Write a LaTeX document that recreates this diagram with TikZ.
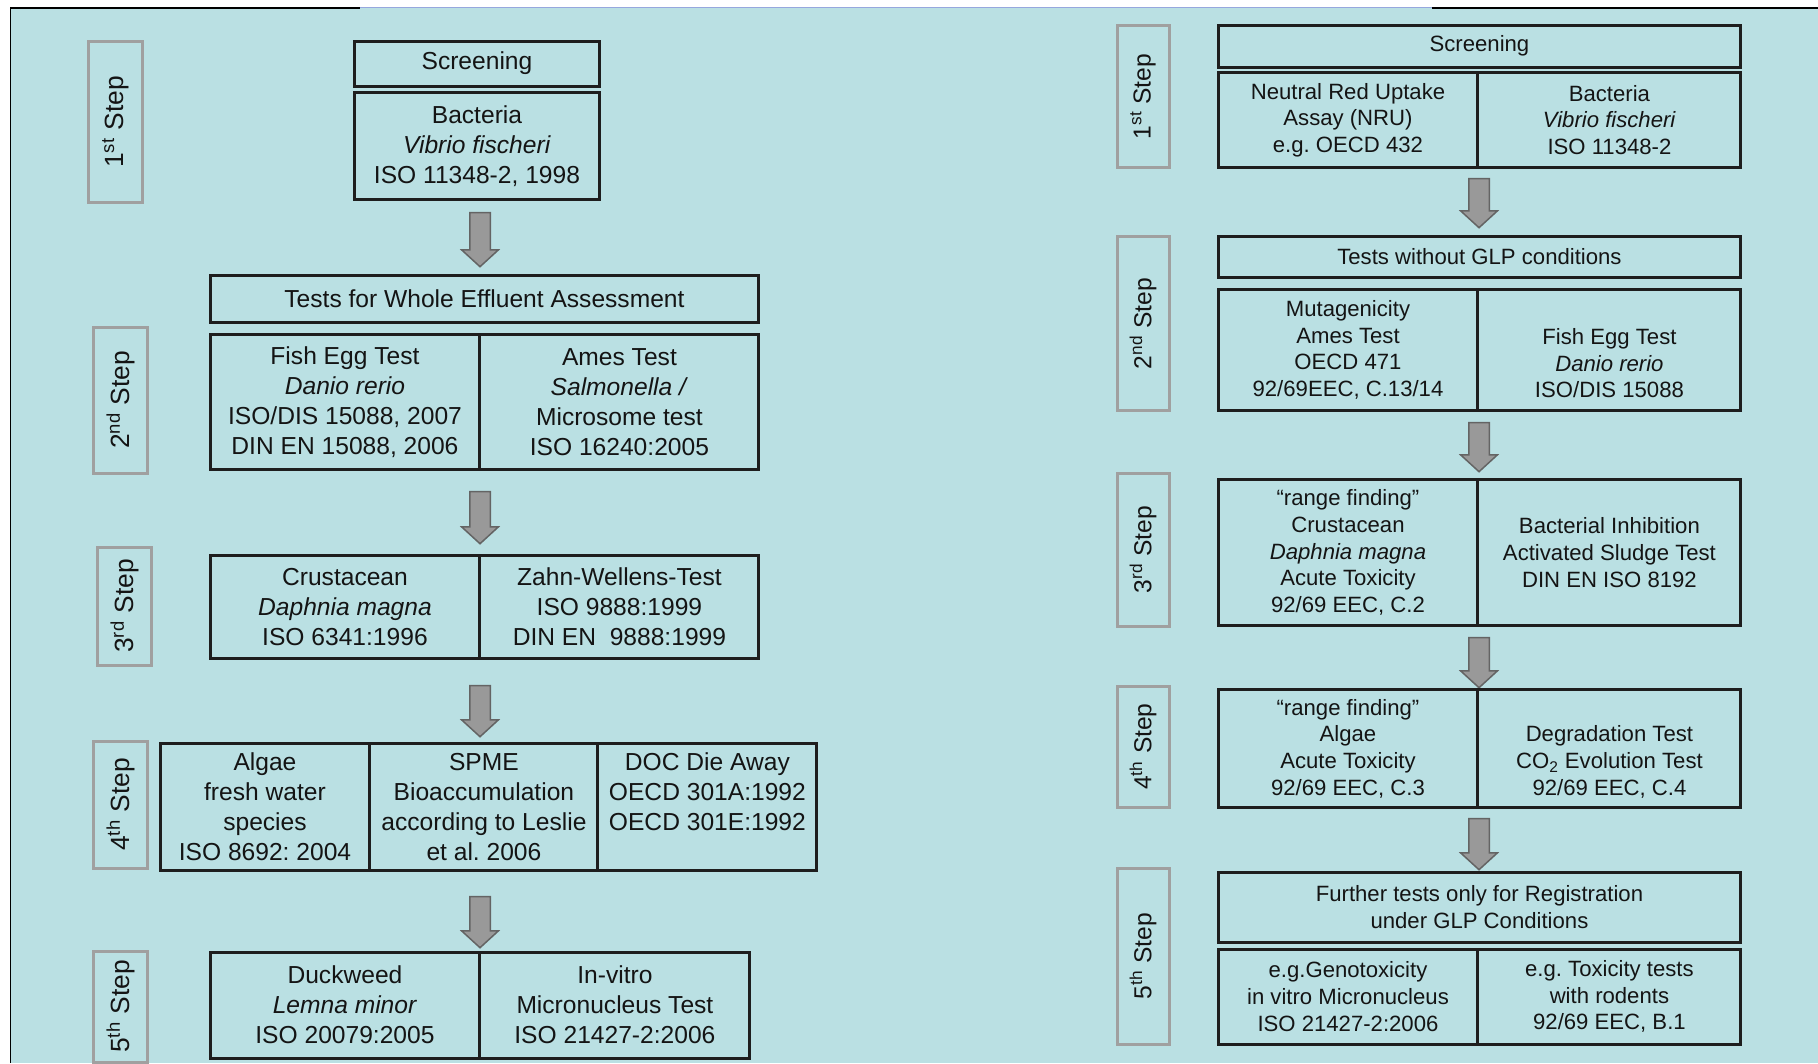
\documentclass[tikz,border=0pt]{standalone}
\usepackage{fontspec}
\setmainfont{Liberation Sans}
\frenchspacing
\usetikzlibrary{positioning,shapes.arrows}
\definecolor{PanelCyan} {RGB}{186,224,227}
\definecolor{FrameBlue} {RGB}{150,168,222}
\definecolor{BoxLine}   {RGB}{ 30, 30, 30}
\definecolor{StepGray}  {RGB}{160,160,160}
\definecolor{ArrowGray} {RGB}{153,153,153}
\definecolor{ArrowEdge} {RGB}{100,100,100}
\definecolor{TextDark}  {RGB}{ 20, 20, 20}
\tikzset{
  %% 左侧方框
  cellL/.style={rectangle,draw=BoxLine,line width=0.06cm,
                inner sep=0pt,outer sep=0pt,align=center,
                text=TextDark,font=\fontsize{14}{17.1}\selectfont},
  %% 右侧方框
  cellR/.style={rectangle,draw=BoxLine,line width=0.06cm,
                inner sep=0pt,outer sep=0pt,align=center,
                text=TextDark,font=\fontsize{12.6}{15.2}\selectfont},
  %% 单独放置的文字
  txtL/.style={align=center,inner sep=0pt,text=TextDark,
               font=\fontsize{14}{17.1}\selectfont},
  txtR/.style={align=center,inner sep=0pt,text=TextDark,
               font=\fontsize{12.6}{15.2}\selectfont},
  %% 步骤标签
  stepL/.style={rectangle,draw=StepGray,line width=0.06cm,rotate=90,
                inner sep=0pt,outer sep=0pt,minimum height=1.10cm,
                text=TextDark,font=\fontsize{15}{18}\selectfont},
  stepR/.style={stepL,minimum height=1.04cm,
                font=\fontsize{14}{17}\selectfont},
  %% 箭头
  downar/.style={single arrow,shape border rotate=270,draw=ArrowEdge,
                 fill=ArrowGray,line width=0.03cm,inner sep=0.19cm,
                 minimum width=0.72cm,single arrow head extend=0.16cm,
                 single arrow tip angle=95},
}
\begin{document}
\begin{tikzpicture}[x=0.02cm,y=-0.02cm]
    \useasboundingbox (0,0) rectangle (1818,1063);
    %% 背景与边框
    \fill[white] (0,0) rectangle (1818,1063);
    \fill[PanelCyan] (10,7.5) rectangle (1818,1063);
    \draw[black,line width=0.04cm] (10.5,1063) -- (10.5,7.5) -- (360,7.5);
    \draw[FrameBlue,line width=0.03cm] (360,7.5) -- (1432,7.5);
    \draw[black,line width=0.04cm] (1432,7.5) -- (1818,7.5);

    %% 左侧 第一步
    \node[stepL,minimum width=3.24cm] (stL1) at (115.5,122) {1\textsuperscript{st} Step};
    \node[cellL,minimum width=4.92cm,minimum height=0.90cm,anchor=north west] (scrL) at (354,41) {Screening};
    \node[cellL,minimum width=4.92cm,minimum height=2.14cm,below=0.14cm of scrL] (bacL)
      {Bacteria\\\textit{Vibrio fischeri}\\ISO 11348-2, 1998};
    \node[downar,minimum height=1.08cm] (arL1) at (480,235) {};

    %% 左侧 第二步
    \node[stepL,minimum width=2.92cm] (stL2) at (120.5,400) {2\textsuperscript{nd} Step};
    \node[cellL,minimum width=10.98cm,minimum height=0.94cm,anchor=north west] (weaL) at (210,275)
      {Tests for Whole Effluent Assessment};
    \node[cellL,minimum width=5.40cm,minimum height=2.72cm,anchor=north west] (fishL) at (210,334)
      {Fish Egg Test\\\textit{Danio rerio}\\ISO/DIS 15088, 2007\\DIN EN 15088, 2006};
    \node[cellL,minimum width=5.58cm,minimum height=2.72cm,right=0pt of fishL] (amesL)
      {Ames Test\\\textit{Salmonella /}\\Microsome test\\ISO 16240:2005};
    \node[downar,minimum height=1.04cm] (arL2) at (480,513) {};

    %% 左侧 第三步
    \node[stepL,minimum width=2.36cm] (stL3) at (124.5,606) {3\textsuperscript{rd} Step};
    \node[cellL,minimum width=5.40cm,minimum height=2.08cm,anchor=north west] (crusL) at (210,555)
      {Crustacean\\\textit{Daphnia magna}\\ISO 6341:1996};
    \node[cellL,minimum width=5.58cm,minimum height=2.08cm,right=0pt of crusL] (zahnL)
      {Zahn-Wellens-Test\\ISO 9888:1999\\DIN EN\ \ 9888:1999};
    \node[downar,minimum height=1.02cm] (arL3) at (480,706.5) {};

    %% 左侧 第四步
    \node[stepL,minimum width=2.54cm] (stL4) at (120.5,804.5) {4\textsuperscript{th} Step};
    \node[cellL,minimum width=4.20cm,minimum height=2.56cm,anchor=north west] (algL) at (160,743)
      {Algae\\fresh water\\species\\ISO 8692: 2004};
    \node[cellL,minimum width=4.56cm,minimum height=2.56cm,right=0pt of algL] (spmeL)
      {SPME\\Bioaccumulation\\according to Leslie\\et al. 2006};
    \node[cellL,minimum width=4.38cm,minimum height=2.56cm,right=0pt of spmeL] (docL) {};
    \node[txtL] (docT) at ([yshift=8.55pt]docL.center)
      {DOC Die Away\\OECD 301A:1992\\OECD 301E:1992};
    \node[downar,minimum height=1.02cm] (arL4) at (480,917.5) {};

    %% 左侧 第五步
    \node[stepL,minimum width=2.22cm] (stL5) at (120.5,1006.5) {5\textsuperscript{th} Step};
    \node[cellL,minimum width=5.40cm,minimum height=2.12cm,anchor=north west] (duckL) at (210,952)
      {Duckweed\\\textit{Lemna minor}\\ISO 20079:2005};
    \node[cellL,minimum width=5.40cm,minimum height=2.12cm,right=0pt of duckL] (micL)
      {In-vitro\\Micronucleus Test\\ISO 21427-2:2006};

    %% 右侧 第一步
    \node[stepR,minimum width=2.86cm] (stR1) at (1143,96.5) {1\textsuperscript{st} Step};
    \node[cellR,minimum width=10.46cm,minimum height=0.84cm,anchor=north west] (scrR) at (1218,25) {Screening};
    \node[cellR,minimum width=5.20cm,minimum height=1.92cm,anchor=north west] (nruR) at (1218,72)
      {Neutral Red Uptake\\Assay (NRU)\\e.g. OECD 432};
    \node[cellR,minimum width=5.26cm,minimum height=1.92cm,right=0pt of nruR] (bacR)
      {Bacteria\\\textit{Vibrio fischeri}\\ISO 11348-2};
    \node[downar,minimum height=0.98cm] (arR1) at (1479,198.5) {};

    %% 右侧 第二步
    \node[stepR,minimum width=3.50cm] (stR2) at (1143,323.5) {2\textsuperscript{nd} Step};
    \node[cellR,minimum width=10.46cm,minimum height=0.82cm,anchor=north west] (glpR) at (1218,236)
      {Tests without GLP conditions};
    \node[cellR,minimum width=5.20cm,minimum height=2.44cm,anchor=north west] (mutR) at (1218,289)
      {Mutagenicity\\Ames Test\\OECD 471\\92/69EEC, C.13/14};
    \node[cellR,minimum width=5.26cm,minimum height=2.44cm,right=0pt of mutR] (fishR) {};
    \node[txtR] (fishT) at ([yshift=-7.6pt]fishR.center)
      {Fish Egg Test\\\textit{Danio rerio}\\ISO/DIS 15088};
    \node[downar,minimum height=0.98cm] (arR2) at (1479,442.5) {};

    %% 右侧 第三步
    \node[stepR,minimum width=3.06cm] (stR3) at (1143,549.5) {3\textsuperscript{rd} Step};
    \node[cellR,minimum width=5.20cm,minimum height=2.94cm,anchor=north west] (crusR) at (1218,479)
      {``range finding''\\Crustacean\\\textit{Daphnia magna}\\Acute Toxicity\\92/69 EEC, C.2};
    \node[cellR,minimum width=5.26cm,minimum height=2.94cm,right=0pt of crusR] (sludR)
      {Bacterial Inhibition\\Activated Sludge Test\\DIN EN ISO 8192};
    \node[downar,minimum height=1.00cm] (arR3) at (1479,658) {};

    %% 右侧 第四步
    \node[stepR,minimum width=2.42cm] (stR4) at (1143,746.5) {4\textsuperscript{th} Step};
    \node[cellR,minimum width=5.20cm,minimum height=2.38cm,anchor=north west] (algR) at (1218,689)
      {``range finding''\\Algae\\Acute Toxicity\\92/69 EEC, C.3};
    \node[cellR,minimum width=5.26cm,minimum height=2.38cm,right=0pt of algR] (degR) {};
    \node[txtR] (degT) at ([yshift=-7.6pt]degR.center)
      {Degradation Test\\CO\textsubscript{2} Evolution Test\\92/69 EEC, C.4};
    \node[downar,minimum height=1.02cm] (arR4) at (1479,839.5) {};

    %% 右侧 第五步
    \node[stepR,minimum width=3.52cm] (stR5) at (1143,956) {5\textsuperscript{th} Step};
    \node[cellR,minimum width=10.46cm,minimum height=1.40cm,anchor=north west] (regR) at (1218,872)
      {Further tests only for Registration\\under GLP Conditions};
    \node[cellR,minimum width=5.20cm,minimum height=1.90cm,anchor=north west] (genR) at (1218,949)
      {e.g.Genotoxicity\\in vitro Micronucleus\\ISO 21427-2:2006};
    \node[cellR,minimum width=5.26cm,minimum height=1.90cm,right=0pt of genR] (rodR)
      {e.g. Toxicity tests\\with rodents\\92/69 EEC, B.1};
\end{tikzpicture}
\end{document}
